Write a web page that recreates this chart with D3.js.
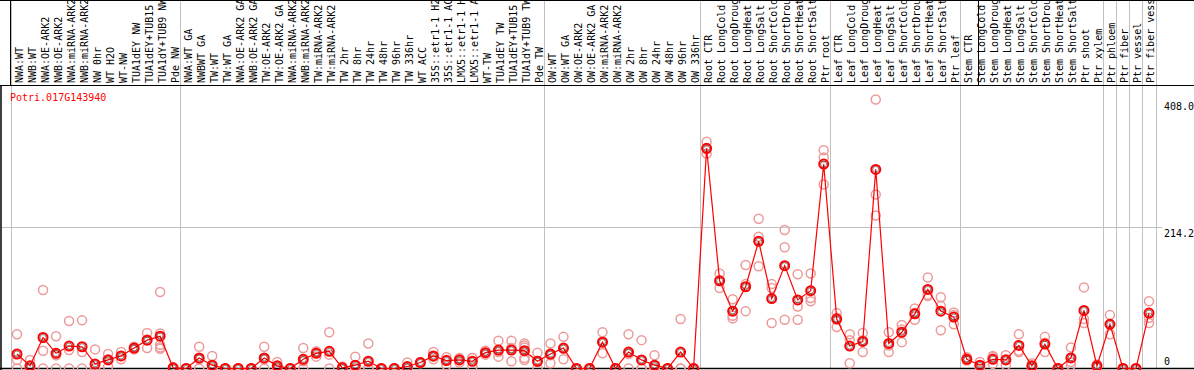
<!DOCTYPE html>
<html>
<head>
<meta charset="utf-8">
<script src="https://cdn.jsdelivr.net/npm/d3@7"></script>
<style>
  body { margin: 0; background: #fff; }
  svg { display: block; }
  text { font-family: "DejaVu Sans Mono", monospace; font-size: 10px; }
</style>
</head>
<body>
<script>
const geneId = "Potri.017G143940";

const samples = [
  "NWA:WT", "NWB:WT", "NWA:OE-ARK2", "NWB:OE-ARK2", "NWA:miRNA-ARK2", "NWB:miRNA-ARK2", "NW 0hr", "WT H2O", "WT-NW",
  "TUA1dEY NW", "TUA1dEY+TUB15", "TUA1dY+TUB9 NW", "Pde NW",
  "NWA:WT GA", "NWBWT GA", "TW:WT", "TW:WT GA", "NWA:OE-ARK2 GA", "NWB:OE-ARK2 GA", "TW:OE-ARK2", "TW:OE-ARK2 GA",
  "NWA:miRNA-ARK2", "NWB:miRNA-ARK2", "TW:miRNA-ARK2", "TW:miRNA-ARK2", "TW 2hr", "TW 8hr", "TW 24hr", "TW 48hr",
  "TW 96hr", "TW 336hr", "WT ACC", "35S::etr1-1 H2", "35S::etr1-1 AC", "LMX5::etr1-1 H", "LMX5::etr1-1 A", "WT-TW",
  "TUA1dEY TW", "TUA1dEY+TUB15", "TUA1dY+TUB9 TW", "Pde TW",
  "OW:WT", "OW:WT GA", "OW:OE-ARK2", "OW:OE-ARK2 GA", "OW:miRNA-ARK2", "OW:miRNA-ARK2", "OW 2hr", "OW 8hr",
  "OW 24hr", "OW 48hr", "OW 96hr", "OW 336hr",
  "Root CTR", "Root LongCold", "Root LongDroug", "Root LongHeat", "Root LongSalt", "Root ShortCold", "Root ShortDrou",
  "Root ShortHeat", "Root ShortSalt", "Ptr root",
  "Leaf CTR", "Leaf LongCold", "Leaf LongDroug", "Leaf LongHeat", "Leaf LongSalt", "Leaf ShortCold", "Leaf ShortDrou",
  "Leaf ShortHeat", "Leaf ShortSalt", "Ptr leaf",
  "Stem CTR", "Stem LongCold", "Stem LongDroug", "Stem LongHeat", "Stem LongSalt", "Stem ShortCold", "Stem ShortDrou",
  "Stem ShortHeat", "Stem ShortSalt", "Ptr shoot", "Ptr xylem", "Ptr phloem", "Ptr fiber", "Ptr vessel", "Ptr fiber vess"
];

const means = [
  22, 4, 47, 23, 34, 33, 7, 13, 19, 31, 43, 49, 1,
  0, 16, 5, 0, 0, 0, 16, 4, 0, 14, 23, 26, 1, 5, 11, 0, 0, 3, 9, 19, 12, 13, 11, 24, 28, 28, 27, 11,
  22, 31, 0, 0, 40, 0, 25, 13, 5, 0, 25, 0,
  334, 133, 87, 124, 193, 106, 156, 104, 118, 310,
  75, 34, 41, 302, 38, 55, 83, 120, 87, 78,
  14, 5, 14, 13, 35, 4, 37, 0, 16, 88, 4, 67, 0, 0, 84
];

const replicates = [
  [52, 13, 0], [13, 0, 0], [119, 27, 0], [49, 20, 0], [72, 28, 0], [73, 25, 0], [29, 0, 0], [22, 14, 3],
  [25, 19, 14], [33, 30, 29], [54, 44, 31], [116, 53, 36, 32, 30], [2, 0, 0],
  [0, 0, 0], [33, 14, 0], [19, 0, 0], [0, 0, 0], [0, 0, 0], [0, 0, 0], [33, 14, 0], [10, 2, 0], [0, 0, 0],
  [31, 11, 0], [26, 25, 18], [55, 21, 0], [3, 0, 0], [18, 0, 0], [38, 0, 0], [0, 0, 0], [0, 0, 0], [9, 0, 0],
  [10, 9, 8], [25, 18, 14], [17, 13, 5], [16, 14, 9], [16, 16, 3], [27, 24, 21], [42, 25, 18], [42, 31, 11],
  [38, 35, 32, 16, 13], [24, 10, 0],
  [38, 20, 8], [48, 30, 14], [0, 0, 0], [0, 0, 0], [55, 41, 23], [0, 0, 0], [52, 22, 0], [43, 0, 0], [20, 0, 0],
  [0, 0, 0], [75, 0, 0], [0, 0, 0],
  [344, 333, 326], [144, 133, 122], [105, 80, 76], [157, 128, 87], [227, 200, 155], [128, 122, 69],
  [210, 184, 74], [143, 94, 74], [144, 107, 102], [331, 320, 279],
  [84, 77, 63], [52, 43, 8], [54, 43, 25], [408, 264, 232], [55, 35, 25], [66, 59, 40], [91, 84, 74],
  [138, 112, 110], [108, 95, 58], [85, 81, 67],
  [17, 15, 12], [10, 4, 0], [19, 17, 7], [20, 14, 5], [52, 27, 25], [8, 3, 0], [48, 39, 25], [0, 0, 0],
  [32, 10, 5], [123, 75, 69], [6, 4, 2], [81, 67, 52], [0, 0, 0], [0, 0, 0], [102, 77, 69]
];

// indices where a new group of samples starts
const groupStarts = [0, 13, 41, 53, 63, 73, 84, 85, 86, 87, 88];
const yTicks = [408.0, 214.2, 0];

const w = 1194, h = 370;
const headerH = 85.5;

const xScale = d3.scaleBand()
  .domain(d3.range(samples.length))
  .range([10.5, 1155.5]);
const yScale = d3.scaleLinear()
  .domain([0, 408])
  .range([368.5, 99.5]);
const cx = i => xScale(i) + xScale.bandwidth() / 2;
const edge = i => i < samples.length ? xScale(i) : xScale.range()[1];

const svg = d3.select("body").append("svg")
  .attr("width", w)
  .attr("height", h);

// group separators
svg.selectAll("line.sep")
  .data(groupStarts)
  .enter().append("line")
  .attr("class", "sep")
  .attr("x1", d => Math.round(edge(d)) + 0.5)
  .attr("x2", d => Math.round(edge(d)) + 0.5)
  .attr("y1", 0)
  .attr("y2", 369)
  .attr("stroke", "#c0c0c0")
  .attr("stroke-width", 1);

// mid grid line
svg.append("line")
  .attr("x1", 1).attr("x2", 1162)
  .attr("y1", Math.round(yScale(214.2)) + 0.5)
  .attr("y2", Math.round(yScale(214.2)) + 0.5)
  .attr("stroke", "#c0c0c0");

// frame
svg.append("line").attr("x1", 0).attr("x2", w).attr("y1", 0.5).attr("y2", 0.5).attr("stroke", "#000");
svg.append("line").attr("x1", 0).attr("x2", w).attr("y1", headerH).attr("y2", headerH).attr("stroke", "#000");
svg.append("line").attr("x1", 0).attr("x2", w).attr("y1", 368.5).attr("y2", 368.5).attr("stroke", "#000").attr("stroke-width", 1.5);
svg.append("line").attr("x1", 1).attr("x2", 1).attr("y1", headerH).attr("y2", h).attr("stroke", "#000").attr("stroke-width", 1.5);
svg.append("line").attr("x1", 10.5).attr("x2", 10.5).attr("y1", 0).attr("y2", headerH).attr("stroke", "#000");
svg.append("line").attr("x1", 978.5).attr("x2", 978.5).attr("y1", 0).attr("y2", headerH).attr("stroke", "#000");

// sample labels
svg.append("g")
  .selectAll("text")
  .data(samples)
  .enter().append("text")
  .attr("transform", (d, i) => "translate(" + (xScale(i) + 12) + ",83) rotate(-90)")
  .attr("fill", "#000")
  .text(d => d);

// gene id
svg.append("text")
  .attr("x", 10)
  .attr("y", 101)
  .attr("fill", "#ff0000")
  .text(geneId);

// right axis
const yAxis = d3.axisRight(yScale)
  .tickValues(yTicks)
  .tickSize(0)
  .tickPadding(0)
  .tickFormat(d => d === 0 ? "0" : d.toFixed(1));
const ax = svg.append("g")
  .attr("transform", "translate(1164,0)")
  .call(yAxis);
ax.select(".domain").remove();
ax.selectAll("text")
  .attr("x", 0)
  .attr("dy", d => d === 0 ? "-0.45em" : "0.95em")
  .style("font-family", "DejaVu Sans Mono, monospace")
  .style("font-size", "10px")
  .attr("fill", "#000");

// replicate points
const pts = [];
replicates.forEach((r, i) => r.forEach(v => pts.push({ i: i, v: v })));
svg.append("g")
  .selectAll("circle")
  .data(pts)
  .enter().append("circle")
  .attr("cx", d => cx(d.i))
  .attr("cy", d => yScale(d.v))
  .attr("r", 4.5)
  .attr("fill", "none")
  .attr("stroke", "#ec9a9a")
  .attr("stroke-width", 1.5);

// mean line
const line = d3.line()
  .x((d, i) => cx(i))
  .y(d => yScale(d));
svg.append("path")
  .datum(means)
  .attr("d", line)
  .attr("fill", "none")
  .attr("stroke", "#ff0000")
  .attr("stroke-width", 1.2);

// mean points
const mg = svg.append("g");
mg.selectAll("circle.m")
  .data(means)
  .enter().append("circle")
  .attr("class", "m")
  .attr("cx", (d, i) => cx(i))
  .attr("cy", d => yScale(d))
  .attr("r", 4.5)
  .attr("fill", "none")
  .attr("stroke", "#ff0000")
  .attr("stroke-width", 2);
mg.selectAll("circle.k")
  .data(means)
  .enter().append("circle")
  .attr("class", "k")
  .attr("cx", (d, i) => cx(i))
  .attr("cy", d => yScale(d))
  .attr("r", 3)
  .attr("fill", "none")
  .attr("stroke", "#000")
  .attr("stroke-opacity", 0.6)
  .attr("stroke-width", 0.8);
</script>
</body>
</html>
